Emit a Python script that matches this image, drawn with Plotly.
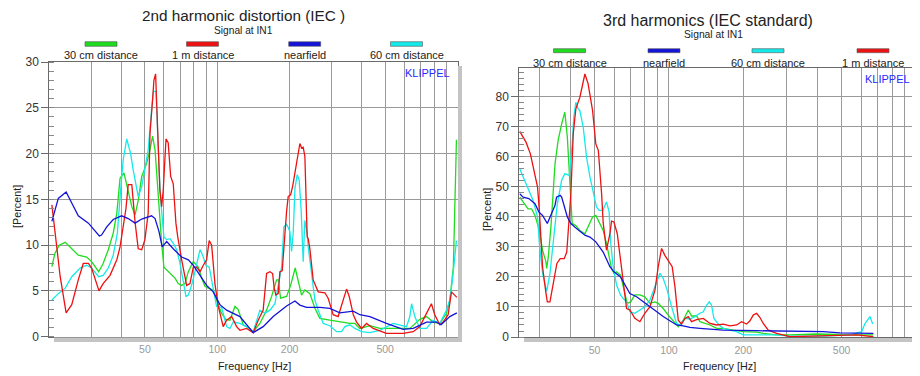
import math
import plotly.graph_objects as go

W, H = 920, 376
FONT = "Liberation Sans, Arial, sans-serif"

# ---------------- DATA ----------------
# Left chart: 2nd harmonic distortion (IEC), percent vs frequency (Hz)
h2_names = ["30 cm distance", "1 m distance", "nearfield", "60 cm distance"]
h2_colors = ["#1edc1e", "#ee1111", "#1414d8", "#14eaea"]

h2_30cm = [(20.5,7.65),(21.1,9.1),(22.0,10.0),(23.3,10.3),(24.4,9.8),(26.4,8.9),(28.6,8.7),(30,8.2),
           (32.1,7.1),(33.5,8.0),(35.2,9.5),(36.9,11.3),(38.2,13.5),(39.4,17.3),(40.9,17.9),(42.6,16.0),
           (44.1,14.2),(45.5,13.3),(46.9,14.9),(48.5,17.5),(50.8,18.9),(52.5,20.4),(53.8,21.9),(55.1,20.4),
           (56.3,16.7),(57.7,12.4),(58.7,10.2),(60,7.6),(62.5,7.1),(64.6,6.7),(66.7,6.4),(68.8,5.8),
           (71.1,5.6),(73.4,5.8),(75.8,7.1),(79.5,8.2),(83.4,7.6),(86.1,6.4),(88.9,5.5),(91.7,5.3),
           (96.2,5.1),(100,3.8),(104,2.6),(108.5,1.9),(112.9,1.8),(118.5,3.3),(122,3.0),(125,2.2),
           (128.3,1.3),(136.8,0.9),(141.2,0.55),(150.5,1.45),(160.5,2.9),(168.4,4.4),(176.6,6.2),
           (179.4,6.2),(183.5,4.2),(194.4,4.4),(202,5.6),(211.1,7.5),(217.3,6.2),(224.4,4.55),
           (231.6,5.1),(243,4.7),(255,3.1),(267.4,2.0),(294.3,1.8),(323.9,1.6),(356.5,1.45),(374,1.45),
           (392.3,0.9),(431.8,1.2),(475.2,0.9),(557.6,0.9),(633.4,0.9),(697,1.9),(743,2.2),(791.5,1.6),
           (844,1.45),(899.7,2.55),(929,4.0),(961,7.6),(975,14.0),(990,21.5)]

h2_1m = [(20.5,14.4),(21.1,11.3),(22.2,6.55),(23.5,2.6),(24.8,3.5),(26.4,6.2),(27.7,8.0),(29.1,8.0),
         (30,7.5),(32.2,5.0),(33.5,5.8),(35.8,6.7),(38.2,8.4),(39.4,9.8),(40.6,12.0),(41.7,14.0),
         (42.6,16.6),(44.1,16.6),(45.5,12.5),(46.9,9.6),(48.5,9.5),(50,10.6),(51.6,13.5),(52.5,22.2),
         (53.8,25.8),(54.5,28.0),(55.4,28.7),(56,25.1),(56.8,20.4),(57.7,16.0),(58.7,14.2),(59.6,16.0),
         (61.2,21.6),(62.5,21.2),(64,17.5),(65.6,16.7),(67.3,12.4),(68.5,10.9),(71.1,8.4),(74.6,5.6),
         (77,5.8),(79.5,7.6),(82.1,7.6),(84.8,7.1),(87.5,7.8),(90.3,8.4),(92.6,10.5),(94.8,10.0),
         (97.8,5.8),(101,3.3),(105.9,1.1),(109.4,1.8),(114.8,2.2),(120.4,1.1),(124.3,0.7),(132.5,0.9),
         (141.2,0.44),(148.1,1.8),(155.3,2.9),(160.5,6.9),(165.7,7.1),(170,6.9),(172.6,5.3),(175.4,4.55),
         (179.4,4.7),(182.3,7.1),(186.4,7.2),(191.3,11.6),(194.4,13.7),(197.4,15.3),(202,15.5),
         (205.9,16.4),(210.6,17.8),(215.2,19.3),(220.8,21.1),(224.4,20.6),(227.9,20.7),(231.6,19.7),
         (233.9,15.3),(236.8,10.9),(239.1,10.7),(243,9.6),(250.8,6.2),(263.1,4.9),(280.5,4.8),
         (289.5,4.2),(303.8,2.4),(318.6,2.2),(334.3,4.0),(345.4,5.2),(354.2,4.4),(368.4,2.4),
         (380.2,1.6),(398.8,0.9),(418.3,1.45),(445.7,0.9),(506,0.36),(594,0.36),(654,0.55),(697,1.1),
         (743,2.55),(779,3.6),(804,2.4),(844,1.3),(871,1.6),(914,2.4),(944,4.9),(974,4.6),(994,4.3)]

h2_near = [(20.5,12.6),(21.8,15.1),(23.5,15.8),(26.4,13.2),(29.1,12.4),(30,12.0),(32.3,11.0),(33,11.1),
           (34.7,12.0),(36.9,12.8),(40,13.2),(42.6,12.9),(45.5,12.4),(48.5,12.85),(53.3,13.2),(55.1,12.9),
           (57.2,11.5),(59,9.8),(61.6,10.4),(65.6,9.6),(71.1,8.7),(75.8,8.4),(79.5,7.8),(84.8,6.7),
           (90.3,5.6),(96.2,4.9),(102.6,3.5),(109.4,2.9),(124.3,2.2),(141.2,0.45),(155.3,1.1),(171,2.2),
           (194.4,3.35),(210.6,3.9),(220.8,3.45),(235.4,3.2),(267.4,3.2),(294.3,3.1),(323.9,2.6),
           (368.4,2.8),(392.3,2.4),(431.8,2.2),(506,1.45),(594,0.8),(654,0.9),(743,1.6),(815,1.6),
           (854,1.3),(929,2.2),(994,2.6)]

h2_60cm = [(20.5,4.0),(21.8,4.7),(23.3,5.3),(24.8,6.55),(26.9,7.5),(28.6,7.8),(30,7.5),(32.1,6.55),
           (33.5,6.7),(35.2,7.5),(36.9,8.9),(38.4,11.3),(39.6,16.0),(40.6,19.3),(42.0,21.6),(43.6,20.0),
           (44.7,18.2),(46.2,16.0),(46.9,15.3),(48.5,16.4),(50,18.2),(51.6,20.4),(53.3,24.8),(54.2,26.8),
           (55.6,26.8),(56.3,22.9),(57.4,17.8),(58.3,14.6),(59.3,12.0),(60,10.9),(61.6,10.6),(63.6,10.7),
           (65.6,10.2),(67.8,9.5),(70,8.0),(72.2,5.8),(74.1,4.4),(75.8,4.55),(78.2,5.6),(80.8,7.1),
           (83.4,8.55),(84.8,9.5),(87,8.9),(89.7,7.8),(92.6,7.6),(96.2,5.5),(99.4,3.3),(104.3,3.2),
           (109.4,1.1),(112.9,0.9),(116.6,1.6),(124.3,1.45),(136.8,0.9),(141.2,0.55),(150.5,2.9),
           (157.9,2.55),(165.7,2.9),(173.8,3.6),(179.4,5.5),(185.3,7.6),(189.4,12.0),(194.4,12.3),
           (200.6,11.5),(203.9,9.3),(207.1,11.3),(210.6,16.2),(215.2,17.7),(219.3,17.1),(223.5,13.8),
           (227.9,8.2),(231.6,12.7),(236.8,11.3),(239.1,9.8),(247,6.55),(255,4.0),(263.1,2.9),
           (276.1,1.45),(294.3,1.2),(313.9,0.55),(329.3,0.55),(339.8,1.1),(356.5,1.3),(374,0.9),
           (398.8,0.55),(431.8,0.44),(475.2,0.7),(539.6,1.45),(613.6,1.1),(633.4,2.2),(644,3.6),
           (654,2.9),(664.3,2.2),(697,0.9),(743,0.9),(791.5,1.8),(844,1.45),(899.7,2.9),(929,4.0),
           (956,6.55),(975,9.0),(990,10.5)]

# Right chart: 3rd harmonics (IEC standard)
h3_names = ["30 cm distance", "nearfield", "60 cm distance", "1 m distance"]
h3_colors = ["#1edc1e", "#1414d8", "#14eaea", "#ee1111"]

h3_30cm = [(24.9,46.6),(25.7,45.0),(26.9,42.7),(27.8,42.7),(28.7,40.5),(29.9,35.5),(30.8,28.9),(31.8,25.0),
           (32.0,22.8),(32.5,26.7),(33.3,36.7),(34.6,57.7),(35.6,65.4),(36.8,71.0),(37.9,74.9),(38.8,66.6),
           (40.1,47.7),(40.6,37.8),(41.9,37.2),(43.6,35.5),(45.7,34.4),(47.1,36.7),(49.1,40.0),(50.6,40.5),
           (51.8,38.9),(54.2,35.5),(55.9,31.1),(58.6,22.8),(59.9,21.2),(61.4,21.7),(63.7,20.6),(65.3,16.7),
           (67.8,11.2),(70,11.7),(72.8,14.0),(76.3,14.0),(79.9,13.4),(83.8,11.2),(87.8,11.7),(90.5,11.2),
           (94.8,9.5),(99.4,7.3),(104.1,5.4),(109.1,3.4),(114.3,5.6),(119.8,9.0),(123.5,7.0),(129.4,7.0),
           (133.5,5.1),(146.6,4.0),(156.1,2.9),(165.9,2.9),(182.2,2.3),(199.9,1.8),(226.5,1.6),(240.9,1.2),
           (272.9,0.7),(309,0.7),(396,1.0),(492,0.7),(575,0.7),(672,0.7)]

h3_near = [(24.9,47.7),(25.7,46.6),(27.1,46.1),(28.7,44.4),(29.8,41.6),(30.8,40.5),(32.2,37.8),(33.0,40.0),
           (34.6,43.9),(35.1,46.6),(36.3,47.2),(36.8,46.6),(37.9,43.3),(38.8,40.0),(40.1,37.8),(41.0,37.2),
           (42.3,36.1),(45.7,33.9),(47.9,33.3),(50.6,31.7),(52.6,30.0),(54.2,28.3),(57.7,23.4),(59.9,21.7),
           (63.7,20.0),(67.4,16.2),(69.5,14.5),(74,13.4),(78.7,11.7),(83.8,10.1),(89.1,8.4),(94.8,6.8),
           (100.9,5.4),(107.4,4.0),(114.3,3.7),(121.6,3.2),(133.5,2.9),(165.9,2.3),(226.5,2.1),(309,2.0),
           (421.5,1.8),(492,1.4),(575,1.2),(672,1.2)]

h3_60cm = [(24.9,56.0),(25.7,53.3),(26.9,49.4),(28.2,45.5),(29.4,40.0),(29.9,31.1),(30.8,21.2),(31.8,16.2),
           (32.0,15.1),(33.0,21.2),(34.0,32.2),(35.3,44.0),(36.8,52.2),(37.9,54.4),(39.5,53.8),(40.6,64.3),
           (41.2,73.2),(42.0,78.2),(42.9,76.0),(43.6,75.4),(45.0,69.9),(46.4,59.9),(47.9,53.3),(49.4,47.7),
           (50.9,43.3),(52.2,42.2),(54.0,42.2),(55.9,45.0),(57.3,41.6),(58.0,32.2),(59.5,23.4),(61.4,17.3),
           (63.7,14.0),(65.3,12.8),(67.4,11.7),(69.5,8.4),(72.8,7.9),(76.3,9.0),(79.9,10.1),(83.8,12.3),
           (87.8,16.7),(92.0,21.2),(94.8,19.5),(97.9,16.2),(102.5,10.1),(107.4,4.5),(110.8,4.0),(116.1,6.2),
           (121.6,6.0),(127.4,6.8),(133.5,7.9),(137.7,8.4),(142.1,10.6),(145.7,11.7),(148.8,10.6),
           (152.1,6.2),(158.4,4.3),(165.9,2.9),(176.6,2.3),(187.9,1.8),(199.9,0.7),(226.5,0.7),(272.9,0.7),
           (309,0.3),(421.5,0.3),(540.5,0.7),(557.6,1.0),(602.6,1.8),(621.7,4.5),(651.3,6.8),(667.7,4.3)]

h3_1m = [(24.9,68.5),(26.4,64.9),(27.5,61.0),(28.2,56.6),(29.4,49.9),(29.9,42.0),(30.8,23.4),(31.8,14.5),
         (32.2,11.7),(33,11.7),(34,17.8),(35.2,24.5),(36.3,26.1),(37.7,26.1),(38.6,28.3),(39.5,38.9),
         (40.1,47.7),(41,67.7),(42,76.0),(43.6,79.8),(45.7,87.6),(47.1,84.3),(49.1,75.4),(50.6,64.3),
         (51.8,62.1),(53.4,47.7),(54.2,38.0),(55.9,28.9),(57.7,34.4),(58.6,38.6),(59.9,38.3),(61.8,34.4),
         (63.7,25.6),(65.3,17.8),(67.4,9.5),(69.5,9.0),(72.8,6.2),(76.3,5.1),(79.9,7.9),(83.8,10.1),
         (87.8,15.6),(90.5,23.4),(93.4,29.5),(96.3,27.2),(99.4,25.6),(103.1,23.4),(105.8,16.7),(109.1,5.6),
         (112.5,4.3),(116.1,6.2),(119.8,6.8),(123.5,5.1),(129.4,5.8),(137.7,6.2),(146.6,4.5),(156.1,4.0),
         (165.9,4.3),(176.6,3.7),(187.9,4.0),(196.9,5.1),(206.3,4.3),(212.8,5.4),(219.4,7.3),(226.5,7.9),
         (233.6,6.5),(240.9,4.5),(252.4,2.3),(272.9,1.2),(309,0.1),(361,0.3),(421.5,0.3),(492.3,0.7),
         (575.2,0.7),(672,0.1)]

grid_freqs = [30, 40, 50, 60, 70, 80, 90, 100, 200, 300, 400, 500, 600, 700, 800, 900]
freq_labels = {50: "50", 100: "100", 200: "200", 500: "500"}
h2_yticks = [0, 5, 10, 15, 20, 25, 30]
h3_yticks = [0, 10, 20, 30, 40, 50, 60, 70, 80]

# ---------------- helpers ----------------
# the page body has an 8px margin, so window pixel X sits at figure pixel X-8
OFF = 8

def px(x):
    return (x - OFF) / W

def py(y):
    return 1 - (y - OFF) / H

fig = go.Figure()

def add_series(pairs, color, xa, ya):
    fs = [p[0] for p in pairs]
    vs = [p[1] for p in pairs]
    fig.add_trace(go.Scatter(x=fs, y=vs, mode="lines", xaxis=xa, yaxis=ya,
                             line=dict(color=color, width=1.3),
                             showlegend=False, hoverinfo="skip"))

for pairs, col in zip([h2_30cm, h2_60cm, h2_1m, h2_near],
                      [h2_colors[0], h2_colors[3], h2_colors[1], h2_colors[2]]):
    add_series(pairs, col, "x", "y")
for pairs, col in zip([h3_30cm, h3_60cm, h3_1m, h3_near],
                      [h3_colors[0], h3_colors[2], h3_colors[3], h3_colors[1]]):
    add_series(pairs, col, "x2", "y2")

ticktext = [freq_labels.get(f, "") for f in grid_freqs]
GRID = "#9a9a9a"
AXIS = "#6a6a6a"

def xaxis_cfg(domain, rng, anchor):
    return dict(domain=domain, type="log", range=rng, tickvals=grid_freqs, ticktext=ticktext,
                showgrid=True, gridcolor=GRID, gridwidth=1, ticks="", zeroline=False,
                tickfont=dict(family=FONT, size=10.5, color="#999999"),
                showline=True, linecolor=AXIS, linewidth=1, mirror=True, anchor=anchor,
                ticklabelstandoff=3, fixedrange=True, automargin=False)

def yaxis_cfg(domain, rng, tickvals, minor_dtick, anchor):
    return dict(domain=domain, range=rng, tickvals=tickvals, showgrid=True, gridcolor=GRID, gridwidth=1,
                ticks="outside", ticklen=7, tickcolor=AXIS, zeroline=False,
                tickfont=dict(family=FONT, size=12, color="#333333"),
                showline=True, linecolor=AXIS, linewidth=1, mirror=True, anchor=anchor,
                minor=dict(dtick=minor_dtick, tick0=0, ticks="inside", ticklen=5, tickcolor="#888888",
                           showgrid=False),
                fixedrange=True, automargin=False)

fig.update_layout(
    width=W, height=H, autosize=False,
    margin=dict(l=0, r=0, t=0, b=0, pad=0, autoexpand=False),
    paper_bgcolor="white", plot_bgcolor="white",
    font=dict(family=FONT, color="#222222"),
    xaxis=xaxis_cfg([px(49.3), px(457.5)], [math.log10(20), 3.0], "y"),
    yaxis=yaxis_cfg([py(336.7), py(62)], [0, 30], h2_yticks, 1, "x"),
    xaxis2=xaxis_cfg([px(519.3), px(917.7)], [math.log10(24.8), math.log10(1016)], "y2"),
    yaxis2=yaxis_cfg([py(337), py(68.3)], [0, 89.5], h3_yticks, 2, "x2"),
)

shapes = []
ann = []

def text(x, y, s, size, color="#222222", angle=0):
    ann.append(dict(x=px(x), y=py(y), xref="paper", yref="paper", text=s, showarrow=False,
                    xanchor="center", yanchor="middle", textangle=angle, borderpad=0,
                    font=dict(family=FONT, size=size, color=color)))

# drop shadows
for x0, x1, y0, y1 in [(458, 462, 66, 342), (54, 462, 337.6, 342),
                       (918.5, 923, 72, 342), (524, 923, 338, 342)]:
    shapes.append(dict(type="rect", xref="paper", yref="paper", x0=px(x0), x1=px(x1),
                       y0=py(y1), y1=py(y0), fillcolor="#c4c4c4", line=dict(width=0)))

# titles
text(243, 15.8, "2nd harmonic distortion (IEC )", 15.3)
text(243.5, 30.2, "Signal at IN1", 10.2)
text(708, 20.5, "3rd harmonics (IEC standard)", 16)
text(713, 34.5, "Signal at IN1", 10.3)

# legends
def legend(names, colors, centers, ry0, ry1, ty):
    for n, c, cx in zip(names, colors, centers):
        shapes.append(dict(type="rect", xref="paper", yref="paper", x0=px(cx - 16), x1=px(cx + 16),
                           y0=py(ry1), y1=py(ry0), fillcolor=c, line=dict(color="#555555", width=0.6)))
        text(cx, ty, n, 11)

legend(h2_names, h2_colors, [101, 202.5, 304.7, 406.5], 41.7, 46.3, 55)
legend(h3_names, h3_colors, [569.5, 664, 768, 873], 48.7, 52.7, 62.7)

# axis titles
text(254, 366, "Frequency [Hz]", 10.8)
text(719, 366, "Frequency [Hz]", 10.8)
text(17, 207, "[Percent]", 10.8, angle=-90)
text(487, 210, "[Percent]", 10.8, angle=-90)

# KLIPPEL marks
text(427, 73.5, "KLIPPEL", 11, color="#2a2aff")
text(887.5, 79.5, "KLIPPEL", 11, color="#2a2aff")

fig.update_layout(shapes=shapes, annotations=ann)
fig.write_html("out.html")
